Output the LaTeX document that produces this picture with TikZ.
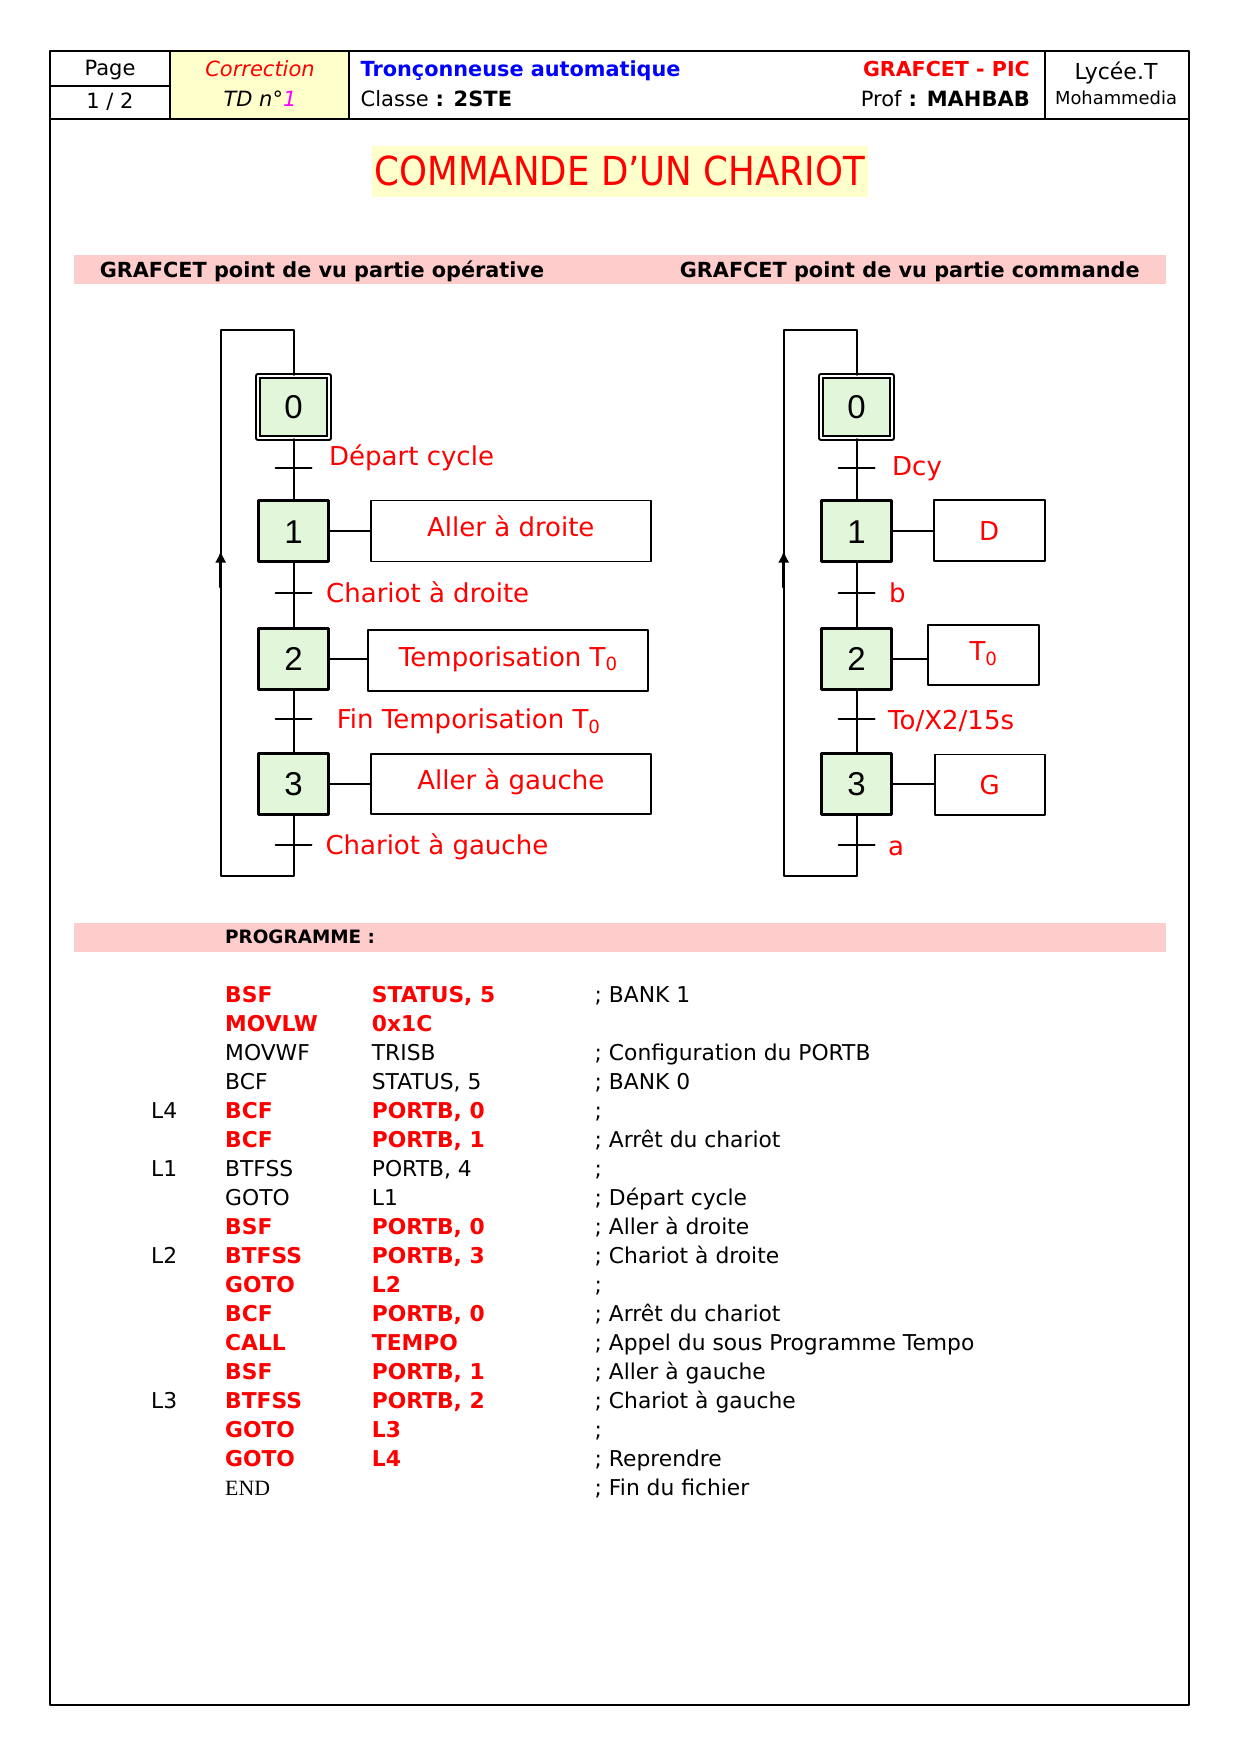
\documentclass[tikz,border=0pt]{standalone}
\usepackage{graphicx}
\usepackage{fontspec}
\setmainfont{DejaVu Sans}
\newfontfamily\digitfont{Liberation Sans}
\newfontfamily\endfont{Liberation Serif}
\usetikzlibrary{arrows.meta}

\definecolor{stepgreen}{RGB}{226,246,218}
\definecolor{cellyellow}{RGB}{255,255,204}
\definecolor{bandpink}{RGB}{255,204,204}
\definecolor{tdmagenta}{RGB}{255,0,255}

\newcommand\hdsize{\fontsize{21}{25}\selectfont}
\newcommand\labsize{\fontsize{26}{30}\selectfont}
\newcommand\prgsize{\fontsize{21.8}{25}\selectfont}
\newcommand\bandsize{\fontsize{20.8}{25}\selectfont\bfseries}

\tikzset{
  txt/.style={inner sep=0pt, text height=#1, text depth=0pt},
  etape/.style={draw, line width=2.7pt, fill=stepgreen, inner sep=0pt,
    minimum width=70.5pt, minimum height=61pt,
    font=\digitfont\fontsize{33}{36}\selectfont, text height=23.6pt, text depth=0pt},
  etapeinit/.style={etape, line width=1.8pt, double=white, double distance=2pt,
    minimum width=71.4pt, minimum height=62.4pt},
  aktion/.style={draw, line width=1.8pt, txt=19pt, text=red, font=\labsize},
  haut/.style={text depth=8pt},
  lab/.style={txt=19pt, anchor=west, text=red, font=\labsize},
  lien/.style={line width=2pt},
  fleche/.style={line width=3pt, -{Latex[length=12pt,width=11.5pt]}},
  hd/.style={txt=15.3pt, font=\hdsize},
  prgk/.style={txt=15.9pt, anchor=west, font=\prgsize},
  prgr/.style={prgk, text=red, font=\prgsize\bfseries}
}

\begin{document}
\begin{tikzpicture}[x=1pt, y=-1pt, line join=round, line cap=round]
  \useasboundingbox (0,0) rectangle (1245,1755);

  % cadre et cartouche
  \fill[cellyellow] (170,51.5) rectangle (349,118.7);
  \draw[line width=2pt] (50,51.5) rectangle (1189,1705);
  \draw[line width=2pt] (50,118.7) -- (1189,118.7);
  \draw[line width=2pt] (50,86) -- (170,86);
  \foreach \xc in {170,349,1044.6}
    \draw[line width=2pt] (\xc,51.5) -- (\xc,118.7);

  \node[hd] (page) at (110,67.5) {Page};
  \node[hd] (pnum) at (110,100.8) {1 / 2};
  \node[hd, text=red, font=\hdsize\itshape] (corr) at (260,69) {Correction};
  \node[hd, font=\hdsize\itshape] (td) at (260,98.5) {TD n°\textcolor{tdmagenta}{1}};
  \node[hd, anchor=west, text=blue, font=\fontsize{20.8}{25}\selectfont\bfseries] (sujet) at (360.5,69) {Tronçonneuse automatique};
  \node[hd, anchor=west] (classe) at (360.5,98.5) {Classe \textbf{: 2STE}};
  \node[hd, anchor=east, text=red, font=\fontsize{20.6}{25}\selectfont\bfseries] (matiere) at (1030,69) {GRAFCET - PIC};
  \node[hd, anchor=east] (prof) at (1030,98.5) {Prof \textbf{: MAHBAB}};
  \node[txt=16pt, font=\fontsize{22}{26}\selectfont] (lycee) at (1116,71.6) {Lycée.T};
  \node[txt=13pt, font=\fontsize{17.9}{22}\selectfont] (ville) at (1116,98.5) {Mohammedia};

  % titre et bandeaux
  \node[fill=cellyellow, minimum width=496pt, minimum height=51.5pt, inner sep=0pt,
    text=red, font=\fontsize{40}{46}\selectfont, text height=29.2pt, text depth=0pt]
    (titre) at (619.7,171.3) {\scalebox{0.89}[1]{COMMANDE D’UN CHARIOT}};
  \fill[bandpink] (74,255) rectangle (1165.5,284);
  \node[txt=15.2pt, anchor=west, font=\bandsize] (pvpo) at (99.6,270) {GRAFCET point de vu partie opérative};
  \node[txt=15.2pt, anchor=west, font=\bandsize] (pvpc) at (679.6,270) {GRAFCET point de vu partie commande};
  \fill[bandpink] (74,922.5) rectangle (1165.5,951.6);
  \node[txt=13.4pt, anchor=west, font=\fontsize{18.4}{22}\selectfont\bfseries] (prog) at (225,937) {PROGRAMME :};

  % GRAFCET partie operative
  \node[etapeinit] (g0) at (293.5,407) {0};
  \node[etape] (g1) at (293.5,531.3) {1};
  \node[etape] (g2) at (293.5,658.7) {2};
  \node[etape] (g3) at (293.5,784) {3};
  \node[aktion, haut, minimum width=280pt, minimum height=61pt] (a1) at (510.8,531) {Aller à droite};
  \node[aktion, haut, minimum width=280pt, minimum height=60.5pt] (a2) at (508.3,660.5) {Temporisation T\textsubscript{0}};
  \node[aktion, haut, minimum width=280pt, minimum height=60.5pt] (a3) at (510.8,784) {Aller à gauche};
  \coordinate (t0) at (293.5,468.3);
  \coordinate (t1) at (293.5,592.7);
  \coordinate (t2) at (293.5,719.3);
  \coordinate (t3) at (293.5,845);
  \coordinate (lb) at (293.5,876);
  \coordinate (lbg) at (220.7,876);
  \coordinate (lhg) at (220.7,330);
  \coordinate (lh) at (293.5,330);
  \coordinate (fa) at (220.7,587);
  \coordinate (fb) at (220.7,550.7);
  \draw[lien] (g0) -- (g1);
  \draw[lien] (g1) -- (g2);
  \draw[lien] (g2) -- (g3);
  \draw[lien] (g3.south) -- (lb) -- (lbg) -- (lhg) -- (lh) -- (g0.north);
  \draw[fleche] (fa) -- (fb);
  \foreach \t in {t0,t1,t2,t3}
    \draw[lien] ([xshift=-18pt]\t) -- ([xshift=18pt]\t);
  \foreach \n in {1,2,3}
    \draw[lien] (g\n.east) -- (g\n.east -| a\n.west);
  \node[lab] (r0) at (329,456.3) {Départ cycle};
  \node[lab] (r1) at (326,592.7) {Chariot à droite};
  \node[lab] (r2) at (336.7,719.3) {Fin Temporisation T\textsubscript{0}};
  \node[lab] (r3) at (325.3,845) {Chariot à gauche};

  % GRAFCET partie commande
  \begin{scope}[xshift=563pt]
    \node[etapeinit] (c0) at (293.5,407) {0};
    \node[etape] (c1) at (293.5,531.3) {1};
    \node[etape] (c2) at (293.5,658.7) {2};
    \node[etape] (c3) at (293.5,784) {3};
    \node[aktion, minimum width=111pt, minimum height=61pt] (b1) at (426.2,530.6) {D};
    \node[aktion, haut, minimum width=111pt, minimum height=60.5pt] (b2) at (420.5,655) {T\textsubscript{0}};
    \node[aktion, minimum width=110pt, minimum height=60.5pt] (b3) at (426.7,784.7) {G};
    \coordinate (u0) at (293.5,468.3);
    \coordinate (u1) at (293.5,592.7);
    \coordinate (u2) at (293.5,719.3);
    \coordinate (u3) at (293.5,845);
    \coordinate (mb) at (293.5,876);
    \coordinate (mbg) at (220.7,876);
    \coordinate (mhg) at (220.7,330);
    \coordinate (mh) at (293.5,330);
    \coordinate (ha) at (220.7,587);
    \coordinate (hb) at (220.7,550.7);
    \draw[lien] (c0) -- (c1);
    \draw[lien] (c1) -- (c2);
    \draw[lien] (c2) -- (c3);
    \draw[lien] (c3.south) -- (mb) -- (mbg) -- (mhg) -- (mh) -- (c0.north);
    \draw[fleche] (ha) -- (hb);
    \foreach \t in {u0,u1,u2,u3}
      \draw[lien] ([xshift=-18pt]\t) -- ([xshift=18pt]\t);
    \foreach \n in {1,2,3}
      \draw[lien] (c\n.east) -- (c\n.east -| b\n.west);
    \node[lab] (s0) at (329,466) {Dcy};
    \node[lab] (s1) at (326,592.7) {b};
    \node[lab] (s2) at (325,720) {To/X2/15s};
    \node[lab] (s3) at (325,846) {a};
  \end{scope}

  % programme
  \foreach \lab/\op/\arg/\com/\sty [count=\i from 0] in {
    {}/BSF/{STATUS, 5}/{; BANK 1}/r,
    {}/MOVLW/0x1C/{}/r,
    {}/MOVWF/TRISB/{; Configuration du PORTB}/k,
    {}/BCF/{STATUS, 5}/{; BANK 0}/k,
    L4/BCF/{PORTB, 0}/{;}/r,
    {}/BCF/{PORTB, 1}/{; Arrêt du chariot}/r,
    L1/BTFSS/{PORTB, 4}/{;}/k,
    {}/GOTO/L1/{; Départ cycle}/k,
    {}/BSF/{PORTB, 0}/{; Aller à droite}/r,
    L2/BTFSS/{PORTB, 3}/{; Chariot à droite}/r,
    {}/GOTO/L2/{;}/r,
    {}/BCF/{PORTB, 0}/{; Arrêt du chariot}/r,
    {}/CALL/TEMPO/{; Appel du sous Programme Tempo}/r,
    {}/BSF/{PORTB, 1}/{; Aller à gauche}/r,
    L3/BTFSS/{PORTB, 2}/{; Chariot à gauche}/r,
    {}/GOTO/L3/{;}/r,
    {}/GOTO/L4/{; Reprendre}/r}
  {
    \pgfmathsetmacro\yy{994.2+29.04*\i}
    \node[prgk] (lab\i) at (151,\yy) {\lab};
    \node[prg\sty] (op\i) at (225,\yy) {\op};
    \node[prg\sty] (arg\i) at (371.7,\yy) {\arg};
    \node[prgk] (com\i) at (594.5,\yy) {\com};
  }
  \node[prgk, font=\endfont\prgsize, text height=14.4pt] (op17) at (225,1487.9) {END};
  \node[prgk] (com17) at (594.5,1487.9) {; Fin du fichier};
\end{tikzpicture}
\end{document}
